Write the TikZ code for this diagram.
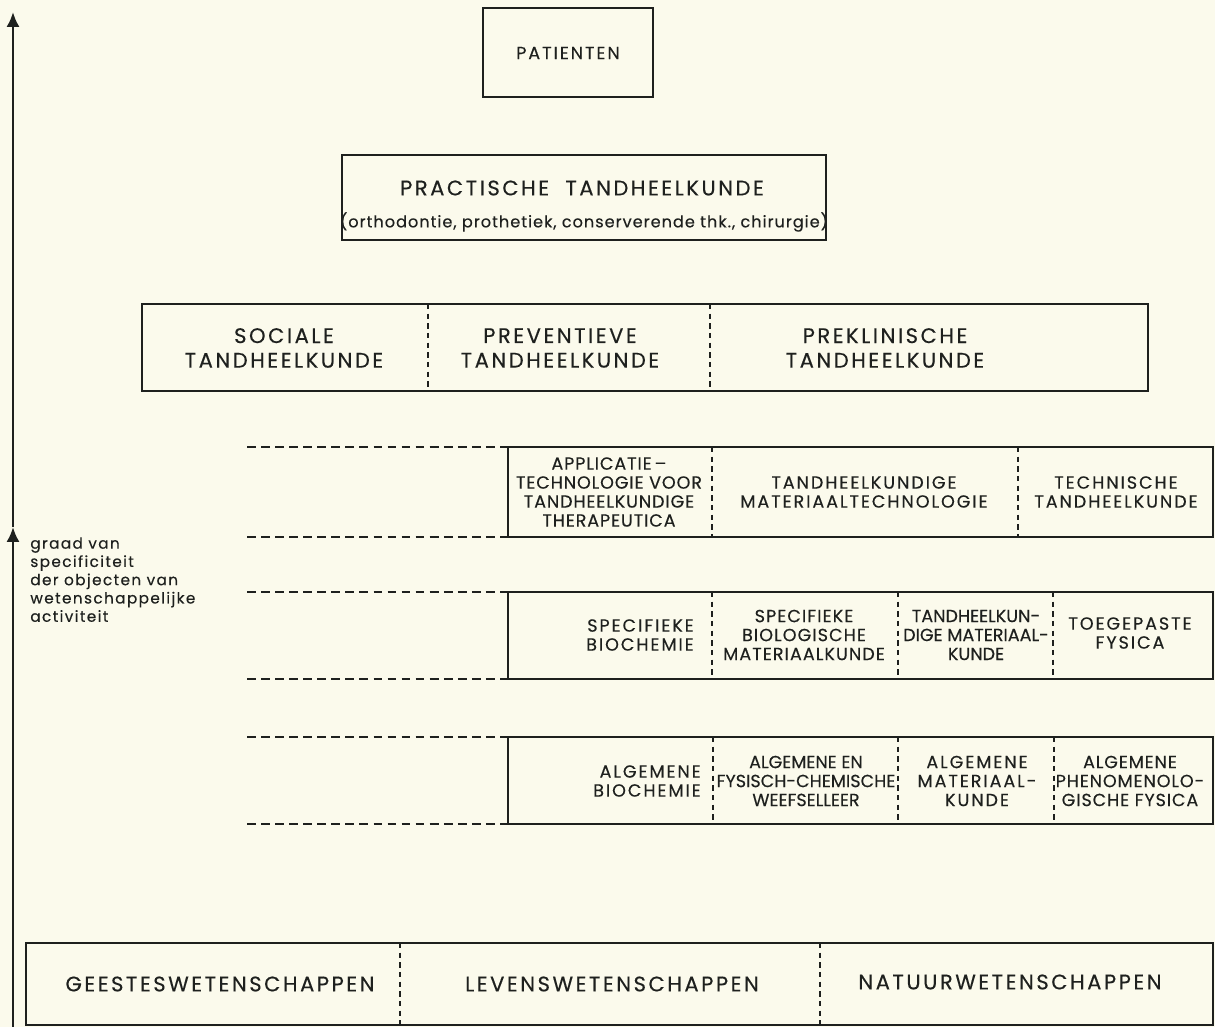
\documentclass[tikz,border=0pt]{standalone}
\usepackage{fontspec}
\setmainfont{Poppins}
\usetikzlibrary{arrows.meta}
\definecolor{paper}{RGB}{251,250,236}
\definecolor{ink}{RGB}{30,32,30}
\tikzset{
  vak/.style={draw=ink,line width=1.25pt},
  deel/.style={draw=ink,line width=0.65pt,dash pattern=on 3pt off 2.5pt},
  rand/.style={draw=ink,line width=0.9pt,dash pattern=on 5pt off 3pt},
  groot/.style={text=ink,align=center,inner sep=0pt,font=\fontsize{12}{14}\selectfont\addfontfeature{LetterSpace=12,FakeBold=0.3}},
  klein/.style={text=ink,align=center,inner sep=0pt,font=\fontsize{10}{10.8}\selectfont\addfontfeature{LetterSpace=11,FakeBold=0.3}},
  krap/.style={font=\fontsize{10}{10.8}\selectfont\addfontfeature{LetterSpace=#1,FakeBold=0.3}},
}

\begin{document}
\begin{tikzpicture}[x=0.02cm,y=-0.02cm,>={Latex[length=8.5pt,width=7.5pt]}]
  % paper
  \fill[paper] (0,0) rectangle (1215,1027);
  \useasboundingbox (0,0) rectangle (1215,1027);
  % axis of specificity
  \coordinate (voet) at (13,1027);
  \coordinate (midden) at (13,527);
  \coordinate (kop) at (13,12);
  \draw[->,ink,line width=1.5pt] (voet) -- (midden);
  \draw[->,ink,line width=1.5pt] (midden) -- (kop);
  \node[text=ink,anchor=north west,align=left,inner sep=0pt,font=\fontsize{8.7}{10.4}\selectfont\addfontfeature{LetterSpace=9,FakeBold=0.3}] (graad) at (30,537)
    {graad van\\specificiteit\\der objecten van\\wetenschappelijke\\activiteit};
  % patienten
  \draw[vak] (483,8) rectangle (653,97);
  \node[klein] (pat) at (568,53) {PATIENTEN};
  % practische tandheelkunde
  \draw[vak] (342,155) rectangle (826,240);
  \node[groot] (prac) at (582,188) {PRACTISCHE\ \ TANDHEELKUNDE};
  \node[klein,font=\fontsize{9.2}{10.8}\selectfont\addfontfeature{LetterSpace=6,FakeBold=0.3}] (ortho) at (584,222) {(orthodontie, prothetiek, conserverende thk., chirurgie)};
  % sociale / preventieve / preklinische
  \draw[vak] (142,304) rectangle (1148,391);
  \draw[deel] (428,304) -- (428,391);
  \draw[deel] (710,304) -- (710,391);
  \node[groot] (soc) at (284,348) {SOCIALE\\TANDHEELKUNDE};
  \node[groot] (prev) at (560,348) {PREVENTIEVE\\TANDHEELKUNDE};
  \node[groot] (prekl) at (885,348) {PREKLINISCHE\\TANDHEELKUNDE};
  % technologie
  \draw[rand] (247,447) -- (508,447);
  \draw[rand] (247,537) -- (508,537);
  \draw[vak] (508,447) rectangle (1213,537);
  \draw[deel] (712,447) -- (712,537);
  \draw[deel] (1018,447) -- (1018,537);
  \node[klein,krap=5] (appl) at (609,492) {APPLICATIE\,--\\TECHNOLOGIE VOOR\\TANDHEELKUNDIGE\\THERAPEUTICA};
  \node[klein] (tmat) at (864,492) {TANDHEELKUNDIGE\\MATERIAALTECHNOLOGIE};
  \node[klein] (techn) at (1116,492) {TECHNISCHE\\TANDHEELKUNDE};
  % specifieke vakken
  \draw[rand] (247,592) -- (508,592);
  \draw[rand] (247,679) -- (508,679);
  \draw[vak] (508,592) rectangle (1213,679);
  \draw[deel] (712,592) -- (712,679);
  \draw[deel] (898,592) -- (898,679);
  \draw[deel] (1053,592) -- (1053,679);
  \node[klein,align=right] (sbio) at (640,635) {SPECIFIEKE\\BIOCHEMIE};
  \node[klein,krap=6] (sbmat) at (804,635) {SPECIFIEKE\\BIOLOGISCHE\\MATERIAALKUNDE};
  \node[klein,krap=0] (tmk) at (976,635) {TANDHEELKUN-\\DIGE MATERIAAL-\\KUNDE};
  \node[klein] (toeg) at (1130,633) {TOEGEPASTE\\FYSICA};
  % algemene vakken
  \draw[rand] (247,737) -- (508,737);
  \draw[rand] (247,824) -- (508,824);
  \draw[vak] (508,737) rectangle (1213,824);
  \draw[deel] (713,737) -- (713,824);
  \draw[deel] (898,737) -- (898,824);
  \draw[deel] (1054,737) -- (1054,824);
  \node[klein,align=right] (abio) at (647,781) {ALGEMENE\\BIOCHEMIE};
  \node[klein,krap=0] (aweef) at (806,781) {ALGEMENE EN\\FYSISCH-CHEMISCHE\\WEEFSELLEER};
  \node[klein] (amat) at (977,781) {ALGEMENE\\MATERIAAL-\\KUNDE};
  \node[klein,krap=5] (afys) at (1130,781) {ALGEMENE\\PHENOMENOLO-\\GISCHE FYSICA};
  % wetenschappen
  \draw[vak] (26,943) rectangle (1213,1025);
  \draw[deel] (400,943) -- (400,1025);
  \draw[deel] (820,943) -- (820,1025);
  \node[groot] (geest) at (220,984) {GEESTESWETENSCHAPPEN};
  \node[groot] (leven) at (612,984) {LEVENSWETENSCHAPPEN};
  \node[groot] (natuur) at (1010,982) {NATUURWETENSCHAPPEN};
\end{tikzpicture}
\end{document}
